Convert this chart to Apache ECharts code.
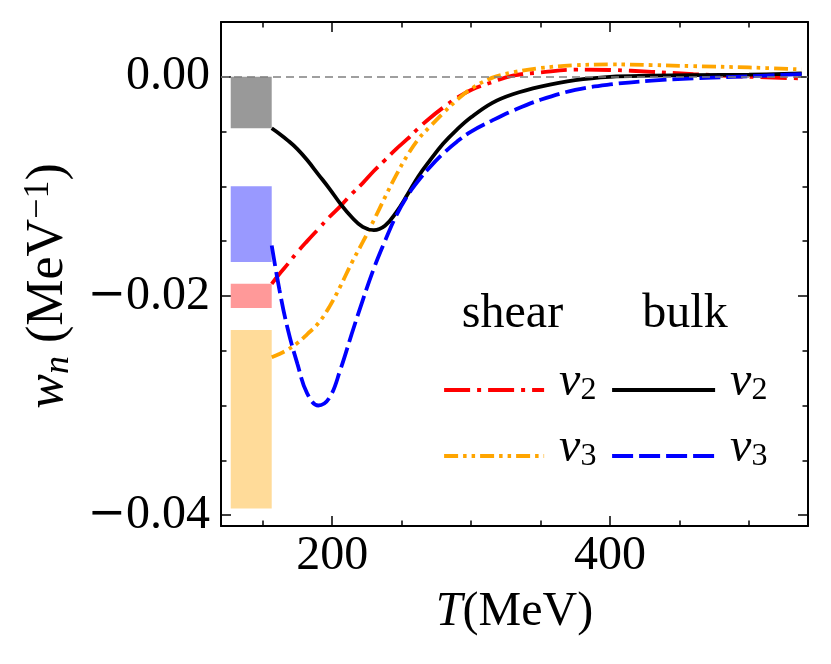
<!DOCTYPE html>
<html><head><meta charset="utf-8">
<script src="https://cdn.jsdelivr.net/npm/echarts@6/dist/echarts.min.js"></script>
<style>html,body{margin:0;padding:0;background:#fff}#c{width:831px;height:664px}</style>
</head><body><div id="c"></div>
<script>
// Temperature grid (MeV)
const T = [156.5,162,168,175,182,190,198,206,214,222,230,238,246,254,262,270,280,290,300,315,330,350,375,400,430,460,500,538];
// w_n (MeV^-1)
const shearV2 = [-0.0189,-0.0180,-0.0171,-0.0160,-0.0150,-0.0139,-0.0128,-0.0118,-0.0107,-0.0097,-0.0086,-0.0076,-0.0066,-0.0057,-0.0047,-0.0038,-0.0028,-0.0019,-0.0012,-0.0005,0.0001,0.0004,0.00065,0.00062,0.00045,0.00025,0.0000,-0.00015];
const shearV3 = [-0.0256,-0.0253,-0.0249,-0.0243,-0.0235,-0.0225,-0.0210,-0.0191,-0.0170,-0.0151,-0.0131,-0.0110,-0.0090,-0.0072,-0.0057,-0.0046,-0.0033,-0.0021,-0.0011,-0.0001,0.0004,0.0008,0.00105,0.00113,0.00107,0.00097,0.00085,0.00067];
const bulkV2 = [-0.0047,-0.0052,-0.0058,-0.0066,-0.0076,-0.0089,-0.0102,-0.0116,-0.0128,-0.0137,-0.0140,-0.0136,-0.0124,-0.0108,-0.0091,-0.0077,-0.0061,-0.0048,-0.0037,-0.0024,-0.0016,-0.0009,-0.0003,0.0000,0.0001,0.00015,0.0002,0.0003];
const bulkV3 = [-0.0154,-0.0194,-0.0230,-0.0262,-0.0289,-0.0300,-0.0293,-0.0267,-0.0235,-0.0204,-0.0175,-0.0150,-0.0127,-0.0109,-0.0095,-0.0083,-0.0070,-0.0059,-0.0050,-0.0040,-0.0031,-0.0021,-0.0012,-0.0007,-0.00035,-0.00015,0.00005,0.00025];
// shaded bands at low T
const bandT = [127, 156.5];
const bandHigh = [0, -0.0100, -0.0189, -0.0231];
const bandLow = [-0.0047, -0.0169, -0.0211, -0.0394];
// ticks
const xMajorTicks = [200, 400];
const xMinorTicks = [150, 250, 300, 350, 450, 500];
const yMajorTicks = [0, -0.02, -0.04];
const yMinorTicks = [-0.005, -0.01, -0.015, -0.025, -0.03, -0.035];
const seriesNames = ['shear v2', 'shear v3', 'bulk v2', 'bulk v3'];

const FONT = 'Liberation Serif';
const bandColors = ['#999999', '#9999ff', '#ff9999', '#ffdb99'];
const X_MIN = 120, X_MAX = 542.5, Y_MIN = -0.041, Y_MAX = 0.005;

const pair = arr => T.map((t, i) => [t, arr[i]]);
const tickStyle = {color: '#000', width: 1.5};

function xAxis(pos, ticks, len, labels, line) {
  return {
    type: 'value', position: pos, min: X_MIN, max: X_MAX,
    axisLine: {show: line, onZero: false, lineStyle: {color: '#000', width: 2}},
    axisTick: {show: true, inside: true, length: len, customValues: ticks, lineStyle: tickStyle},
    axisLabel: labels ? {show: true, customValues: ticks, margin: 6, color: '#000',
      fontFamily: FONT, fontSize: 48, formatter: v => String(v)} : {show: false},
    splitLine: {show: false}
  };
}
function yAxis(pos, ticks, len, labels, line) {
  return {
    type: 'value', position: pos, min: Y_MIN, max: Y_MAX,
    axisLine: {show: line, onZero: false, lineStyle: {color: '#000', width: 2}},
    axisTick: {show: true, inside: true, length: len, customValues: ticks, lineStyle: tickStyle},
    axisLabel: labels ? {show: true, customValues: ticks, margin: 11, color: '#000',
      fontFamily: FONT, fontSize: 48,
      formatter: v => Math.abs(v) < 1e-9 ? '0.00' : (v < 0 ? '{m|\u2212}' : '') + Math.abs(v).toFixed(2),
      rich: {m: {fontFamily: 'DejaVu Serif', fontSize: 46, color: '#000'}}} : {show: false},
    splitLine: {show: false}
  };
}

const xAxes = [
  xAxis('bottom', xMajorTicks, 10, true, true),
  xAxis('bottom', xMinorTicks, 5.5, false, false),
  xAxis('top', xMajorTicks, 10, false, true),
  xAxis('top', xMinorTicks, 5.5, false, false)
];
Object.assign(xAxes[0], {
  name: '{i|T}{n|(MeV)}', nameLocation: 'middle', nameGap: 58,
  nameTextStyle: {color: '#000', rich: {
    i: {fontFamily: FONT, fontStyle: 'italic', fontSize: 48, lineHeight: 56, color: '#000'},
    n: {fontFamily: FONT, fontSize: 48, lineHeight: 56, color: '#000'}
  }}
});
const yAxes = [
  yAxis('left', yMajorTicks, 10, true, true),
  yAxis('left', yMinorTicks, 5.5, false, false),
  yAxis('right', yMajorTicks, 10, false, true),
  yAxis('right', yMinorTicks, 5.5, false, false)
];
Object.assign(yAxes[0], {
  name: '{i|w}{s|n}{n| (MeV}{p|\u22121}{n|)}', nameLocation: 'middle', nameGap: 141,
  nameTextStyle: {color: '#000', padding: [0, 24, 0, 0], rich: {
    i: {fontFamily: FONT, fontStyle: 'italic', fontSize: 52, lineHeight: 56, color: '#000'},
    s: {fontFamily: FONT, fontStyle: 'italic', fontSize: 36, lineHeight: 28, verticalAlign: 'bottom', color: '#000'},
    n: {fontFamily: FONT, fontSize: 52, lineHeight: 56, color: '#000'},
    p: {fontFamily: FONT, fontSize: 36, lineHeight: 28, verticalAlign: 'top', color: '#000'}
  }}
});

const styles = [
  {color: '#ff0000', type: [26, 7, 4, 7]},
  {color: '#ffa500', type: [14, 5, 3.5, 5, 3.5, 5]},
  {color: '#000000', type: 'solid'},
  {color: '#0000ff', type: [21, 6]}
];
const values = [shearV2, shearV3, bulkV2, bulkV3];

const series = seriesNames.map((name, k) => ({
  name, type: 'line', xAxisIndex: 0, yAxisIndex: 0, data: pair(values[k]),
  symbol: 'none', smooth: 0.4, z: 3,
  lineStyle: {color: styles[k].color, width: 3.8, type: styles[k].type},
  itemStyle: {color: styles[k].color}
}));
series[0].markArea = {
  silent: true, z: 1,
  data: bandHigh.map((hi, i) => [
    {xAxis: bandT[0], yAxis: hi, itemStyle: {color: bandColors[i], opacity: 1}},
    {xAxis: bandT[1], yAxis: bandLow[i]}
  ])
};
series[0].markLine = {
  silent: true, symbol: ['none', 'none'], animation: false,
  label: {show: false},
  lineStyle: {color: '#808080', width: 1.5, type: [8, 5]},
  data: [{yAxis: 0}]
};

const legendRich = {
  v: {fontFamily: FONT, fontStyle: 'italic', fontSize: 48, lineHeight: 50, color: '#000'},
  s: {fontFamily: FONT, fontSize: 32, lineHeight: 24, verticalAlign: 'bottom', color: '#000'}
};
const legendFmt = name => '{v|v}{s|' + name.slice(-1) + '}';
function legend(names, left, w) {
  return {
    data: names, orient: 'vertical', left, top: 353, itemWidth: w, itemHeight: 60, itemGap: 10,
    selectedMode: false, formatter: legendFmt,
    itemStyle: {opacity: 0},
    lineStyle: {width: 4.2},
    textStyle: {padding: [0, 0, 16, 10], rich: legendRich}
  };
}

const option = {
  animation: false,
  backgroundColor: '#fff',
  grid: {left: 221, right: 23, top: 22, bottom: 138, outerBoundsMode: 'none'},
  xAxis: xAxes,
  yAxis: yAxes,
  legend: [legend(['shear v2', 'shear v3'], 437, 100), legend(['bulk v2', 'bulk v3'], 605, 103)],
  graphic: [
    {type: 'text', style: {text: 'shear', x: 512.5, y: 314, fontFamily: FONT, fontSize: 48, fill: '#000', align: 'center', verticalAlign: 'middle'}},
    {type: 'text', style: {text: 'bulk', x: 685, y: 314, fontFamily: FONT, fontSize: 48, fill: '#000', align: 'center', verticalAlign: 'middle'}}
  ],
  series
};
const chart = echarts.init(document.getElementById('c'));
chart.setOption(option);
</script>
</body></html>
